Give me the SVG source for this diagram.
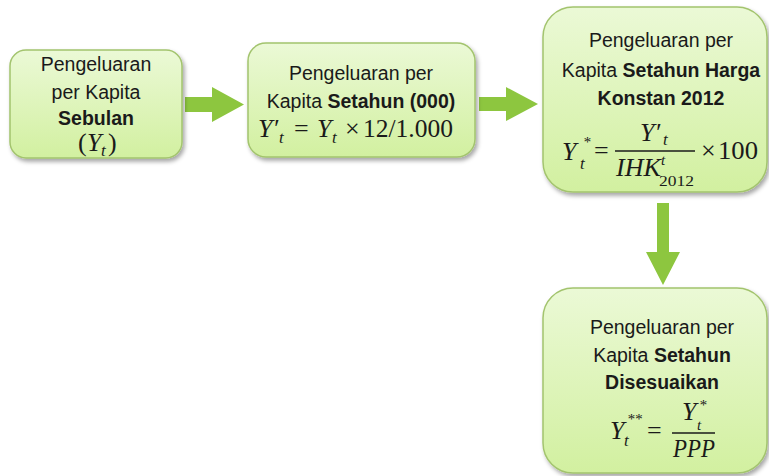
<svg xmlns="http://www.w3.org/2000/svg" width="769" height="476" viewBox="0 0 769 476">
<defs>
<linearGradient id="gfill" x1="0" y1="0" x2="0" y2="1">
<stop offset="0" stop-color="#ebf9d6"/>
<stop offset="1" stop-color="#d2f0a0"/>
</linearGradient>
<filter id="sh" x="-10%" y="-10%" width="125%" height="125%">
<feDropShadow dx="2" dy="3" stdDeviation="2" flood-color="#000" flood-opacity="0.35"/>
</filter>
<style>
.box{fill:url(#gfill);stroke:#a3c46e;stroke-width:1.5;filter:url(#sh)}
.t{font-family:"Liberation Sans",Arial,sans-serif;font-size:19.5px;fill:#1a1a1a;text-anchor:middle}
.b{font-weight:bold}
.m{font-family:"Liberation Serif","Times New Roman",serif;fill:#1a1a1a;font-size:26px}
.i{font-style:italic}
.s{font-size:17px}
.ss{font-size:15px}
.arr{fill:#8dc63f}
.fl{stroke:#1a1a1a;stroke-width:1.3}
</style>
</defs>
<rect width="769" height="476" fill="#ffffff"/>

<g id="connectors">
<polygon class="arr" points="185,97 212,97 212,87 244,104.5 212,122 212,112 185,112"/>
<polygon class="arr" points="479,97 506,97 506,87 538,104 506,121 506,111 479,111"/>
<polygon class="arr" points="657,203 669,203 669,252 680,252 663,285 646,252 657,252"/>
</g>

<g id="node1">
<rect class="box" x="10" y="50" width="172" height="108" rx="16"/>
<text class="t" x="96" y="71">Pengeluaran</text>
<text class="t" x="96" y="99">per Kapita</text>
<text class="t b" x="96" y="125">Sebulan</text>
<text class="m" font-size="24" y="151"><tspan x="78">(</tspan><tspan x="87" class="i">Y</tspan><tspan x="101" y="156" class="i s">t</tspan><tspan x="108" y="151">)</tspan></text>
</g>

<g id="node2">
<rect class="box" x="248" y="43" width="227" height="114" rx="18"/>
<text class="t" x="361" y="80">Pengeluaran per</text>
<text class="t" x="361" y="108">Kapita <tspan class="b">Setahun (000)</tspan></text>
<text class="m" font-size="24" y="137"><tspan x="258" class="i">Y′</tspan><tspan x="279" y="143" class="i s">t</tspan><tspan x="294" y="137">=</tspan><tspan x="317" class="i">Y</tspan><tspan x="332" y="143" class="i s">t</tspan><tspan x="345" y="137">×</tspan></text>
<text class="m" x="363" y="137" font-size="24" textLength="90" lengthAdjust="spacingAndGlyphs">12/1.000</text>
</g>

<g id="node3">
<rect class="box" x="543" y="7" width="224" height="185" rx="30"/>
<text class="t" x="661" y="47">Pengeluaran per</text>
<text class="t" x="661" y="77">Kapita <tspan class="b">Setahun Harga</tspan></text>
<text class="t b" x="661" y="105">Konstan 2012</text>
<text class="m" y="160"><tspan x="562" class="i">Y</tspan><tspan x="583" y="147" class="i ss">*</tspan><tspan x="580" y="169" class="i s">t</tspan><tspan x="594" y="159">=</tspan></text>
<line class="fl" x1="615" y1="151" x2="695" y2="151"/>
<text class="m" y="141"><tspan x="640" class="i">Y′</tspan><tspan x="663" y="145" class="i s">t</tspan></text>
<text class="m" y="176" font-size="23"><tspan x="616" class="i">IHK</tspan><tspan x="661" y="165" class="i ss">t</tspan><tspan x="659" y="186" class="ss" textLength="35" lengthAdjust="spacingAndGlyphs">2012</tspan></text>
<text class="m" y="159"><tspan x="701">×</tspan></text>
<text class="m" x="718" y="159" textLength="40" lengthAdjust="spacingAndGlyphs">100</text>
</g>

<g id="node4">
<rect class="box" x="543" y="288" width="224" height="185" rx="30"/>
<text class="t" x="662" y="334">Pengeluaran per</text>
<text class="t" x="662" y="362">Kapita <tspan class="b">Setahun</tspan></text>
<text class="t b" x="662" y="389">Disesuaikan</text>
<text class="m" y="439"><tspan x="610" class="i">Y</tspan><tspan x="627" y="424" class="i ss">**</tspan><tspan x="624" y="446" class="i s">t</tspan><tspan x="647" y="439">=</tspan></text>
<line class="fl" x1="672" y1="433" x2="715" y2="433"/>
<text class="m" y="420"><tspan x="682" class="i">Y</tspan><tspan x="699" y="410" class="i ss">*</tspan><tspan x="697" y="430" class="i ss">t</tspan></text>
<text class="m i" x="673" y="457" textLength="42" lengthAdjust="spacingAndGlyphs">PPP</text>
</g>
</svg>
